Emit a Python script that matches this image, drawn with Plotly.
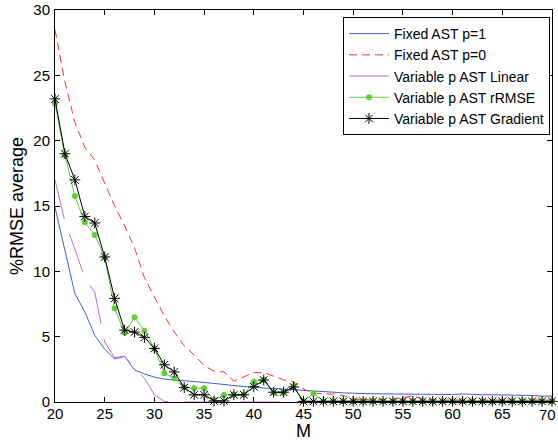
import plotly.graph_objects as go

# ============================================
# Data
# ============================================

M = list(range(20, 71))

fixed_p1 = [
    14.9, 11.6, 8.3, 6.9, 5.1, 4.05, 3.3, 3.5, 2.45, 2.15,
    1.9, 1.75, 1.7, 1.62, 1.57, 1.5, 1.42, 1.33, 1.25, 1.18,
    1.12, 1.08, 1.02, 0.97, 0.93, 0.9, 0.85, 0.8, 0.75, 0.7,
    0.65, 0.65, 0.63, 0.62, 0.6, 0.6, 0.6, 0.55, 0.55, 0.55,
    0.57, 0.62, 0.57, 0.55, 0.55, 0.55, 0.55, 0.55, 0.5, 0.45,
    0.45
]

fixed_p0 = [
    28.5, 24.5, 21.4, 19.5, 18.5, 16.8, 15.0, 13.5, 11.8, 9.5,
    8.1, 6.6, 5.35, 4.3, 3.6, 2.8, 2.35, 2.3, 1.6, 1.95,
    2.25, 2.25, 2.0, 1.7, 1.55, 1.0, 0.65, 0.65, 0.6, 0.5,
    0.2, 0.2, 0.15, 0.2, 0.2, 0.3, 0.5, 0.2, 0.15, 0.15,
    0.15, 0.15, 0.15, 0.15, 0.15, 0.15, 0.15, 0.15, 0.15, 0.15,
    0.15
]

linear = [
    17.0, 13.8, 11.7, 9.5, 8.4, 4.6, 3.4, 3.5, 2.6, 1.8,
    0.55, 0.05, 0, 0, 0, 0, 0, 0, 0, 0,
    0, 0, 0, 0, 0, 0, 0, 0, 0, 0,
    0, 0, 0, 0, 0, 0, 0, 0, 0, 0,
    0, 0, 0, 0, 0, 0, 0, 0, 0, 0,
    0
]

rrmse = [
    22.85, 18.85, 15.76, 13.75, 12.78, 11.07, 7.17, 5.3, 6.48, 5.46,
    4.1, 2.2, 1.8, 1.12, 1.05, 1.05, 0.15, 0.54, 0.55, 0.55,
    1.55, 1.7, 0.7, 0.7, 1.2, 0.05, 0.65, 0.05, 0.05, 0.05,
    0.05, 0.05, 0.05, 0.05, 0.05, 0.05, 0.05, 0.05, 0.05, 0.05,
    0.05, 0.05, 0.05, 0.05, 0.05, 0.05, 0.05, 0.05, 0.05, 0.05,
    0.05
]

gradient = [
    23.2, 19.0, 17.0, 14.2, 13.7, 11.1, 7.93, 5.5, 5.35, 4.95,
    4.1, 2.85, 2.3, 1.1, 0.55, 0.55, 0.08, 0.08, 0.55, 0.55,
    1.17, 1.68, 0.75, 0.75, 1.15, 0.05, 0.05, 0.05, 0.05, 0.05,
    0.05, 0.05, 0.05, 0.05, 0.05, 0.05, 0.05, 0.05, 0.05, 0.05,
    0.05, 0.05, 0.05, 0.05, 0.05, 0.05, 0.05, 0.05, 0.05, 0.05,
    0.05
]

x_ticks = [20, 25, 30, 35, 40, 45, 50, 55, 60, 65, 70]
# the last label sits against the page edge, it is drawn as an annotation
x_ticktext = ["20", "25", "30", "35", "40", "45", "50", "55", "60", "65", ""]
y_ticks = [0, 5, 10, 15, 20, 25, 30]

BLUE = "#4060c8"
RED = "#ff3030"
MAGENTA = "#d066c6"
GREEN = "#66cc3c"
BLACK = "#000000"

FONT = "Liberation Sans, Arial, sans-serif"

# ============================================
# Chart
# ============================================

fig = go.Figure()

fig.add_trace(
    go.Scatter(
        x=M,
        y=fixed_p1,
        mode="lines",
        name="Fixed AST p=1",
        line=dict(color=BLUE, width=1)
    )
)

fig.add_trace(
    go.Scatter(
        x=M,
        y=fixed_p0,
        mode="lines",
        name="Fixed AST p=0",
        line=dict(color=RED, width=1, dash="8px,5px")
    )
)

# the exported linear curve shows long dashes, its legend sample is solid
fig.add_trace(
    go.Scatter(
        x=M,
        y=linear,
        mode="lines",
        name="Variable p AST Linear",
        legendgroup="lin",
        showlegend=False,
        line=dict(color=MAGENTA, width=1, dash="40px,16px")
    )
)

fig.add_trace(
    go.Scatter(
        x=[None],
        y=[None],
        mode="lines",
        name="Variable p AST Linear",
        legendgroup="lin",
        line=dict(color=MAGENTA, width=1)
    )
)

fig.add_trace(
    go.Scatter(
        x=M,
        y=rrmse,
        mode="lines+markers",
        name="Variable p AST rRMSE",
        line=dict(color=GREEN, width=1),
        marker=dict(color=GREEN, size=6, symbol="circle"),
        cliponaxis=False
    )
)

fig.add_trace(
    go.Scatter(
        x=M,
        y=gradient,
        mode="lines+markers",
        name="Variable p AST Gradient",
        line=dict(color=BLACK, width=1),
        marker=dict(
            color=BLACK,
            size=9,
            symbol="asterisk-open",
            line=dict(color=BLACK, width=1)
        ),
        cliponaxis=False
    )
)

fig.add_annotation(
    x=x_ticks[-1],
    y=0,
    xref="x",
    yref="y",
    text=str(x_ticks[-1]),
    showarrow=False,
    xanchor="right",
    yanchor="top",
    xshift=6,
    yshift=-2,
    font=dict(family=FONT, size=15, color="black")
)

fig.update_layout(

    width=558,

    height=441,

    margin=dict(
        l=55,
        r=6,
        t=10,
        b=39
    ),

    paper_bgcolor="white",

    plot_bgcolor="white",

    font=dict(
        family=FONT,
        size=15,
        color="black"
    ),

    showlegend=True,

    legend=dict(
        x=0.996,
        y=0.982,
        xanchor="right",
        yanchor="top",
        bgcolor="white",
        bordercolor="black",
        borderwidth=1,
        itemwidth=40,
        entrywidth=182,
        entrywidthmode="pixels",
        tracegroupgap=0,
        font=dict(family=FONT, size=14)
    ),

    xaxis=dict(
        range=[20, 70],
        tickvals=x_ticks,
        ticktext=x_ticktext,
        ticks="inside",
        ticklen=5,
        tickcolor="black",
        ticklabelstandoff=-2,
        automargin=False,
        showgrid=False,
        zeroline=False,
        showline=True,
        linecolor="black",
        linewidth=1,
        mirror="ticks",
        title=dict(text="M", standoff=6)
    ),

    yaxis=dict(
        range=[0, 30],
        tickvals=y_ticks,
        ticks="inside",
        ticklen=5,
        tickcolor="black",
        ticklabelstandoff=1,
        automargin=False,
        showgrid=False,
        zeroline=False,
        showline=True,
        linecolor="black",
        linewidth=1,
        mirror="ticks",
        title=dict(text="%RMSE average", standoff=5)
    )

)

fig.write_html(
    "out.html",
    config=dict(displayModeBar=False),
    post_script="document.body.style.margin='0';document.body.style.overflow='hidden';"
)
